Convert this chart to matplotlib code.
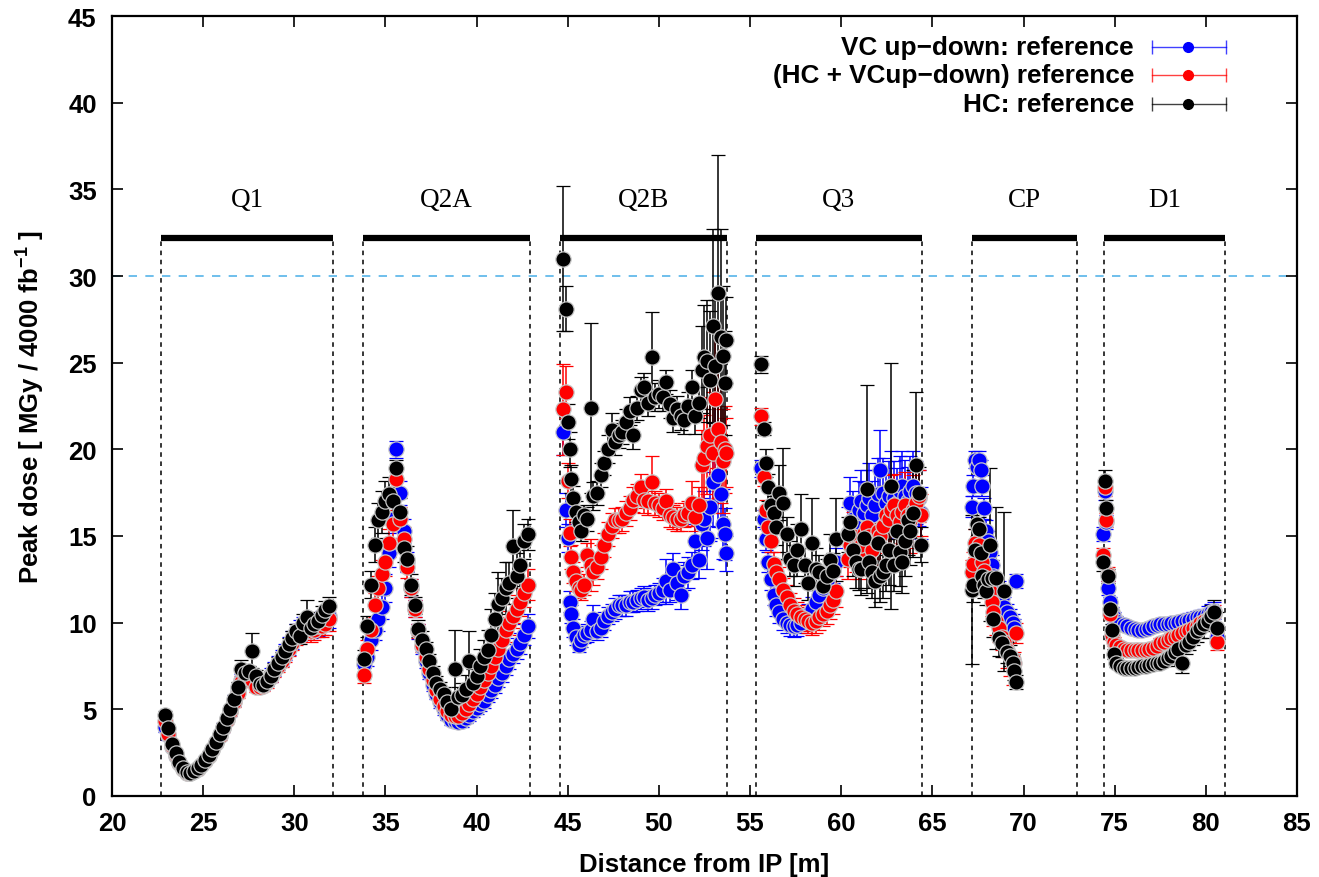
import matplotlib
matplotlib.use('Agg')
import matplotlib.pyplot as plt
import numpy as np

plt.rcParams['font.family'] = ['Liberation Sans', 'DejaVu Sans']
plt.rcParams['mathtext.fontset'] = 'custom'
plt.rcParams['mathtext.rm'] = 'Liberation Sans:bold'
plt.rcParams['mathtext.bf'] = 'Liberation Sans:bold'

# magnets
magnet_names = ['Q1', 'Q2A', 'Q2B', 'Q3', 'CP', 'D1']
magnet_start = [22.7, 33.75, 44.55, 55.3, 67.15, 74.4]
magnet_end = [32.15, 42.95, 53.75, 64.45, 72.95, 81.05]

# ---- Q1
q1_x = [22.9, 23.1, 23.3, 23.5, 23.7, 23.9, 24.1, 24.3, 24.5, 24.7, 24.9, 25.1, 25.3, 25.5, 25.7,
        25.9, 26.1, 26.3, 26.5, 26.7, 26.9, 27.1, 27.3, 27.5, 27.7, 27.9, 28.1, 28.3, 28.5, 28.7,
        28.9, 29.1, 29.3, 29.5, 29.7, 29.9, 30.1, 30.3, 30.5, 30.7, 30.9, 31.1, 31.3, 31.5, 31.7, 31.9]
q1_hc = [4.7, 3.9, 3.0, 2.45, 1.95, 1.6, 1.38, 1.35, 1.45, 1.6, 1.8, 2.05, 2.35, 2.7, 3.1,
         3.55, 4.0, 4.5, 5.0, 5.6, 6.3, 7.35, 7.1, 7.2, 8.38, 6.95, 6.45, 6.4, 6.65, 6.95,
         7.35, 7.7, 8.0, 8.35, 8.75, 9.1, 9.5, 9.25, 10.0, 10.3, 9.7, 9.9, 10.1, 10.45, 10.75, 10.98]
q1_hc_err = [0.2, 0.2, 0.15, 0.1, 0.1, 0.1, 0.1, 0.1, 0.1, 0.1, 0.1, 0.1, 0.1, 0.15, 0.15,
             0.15, 0.2, 0.2, 0.2, 0.25, 0.3, 0.5, 0.3, 0.3, 1.0, 0.3, 0.3, 0.25, 0.25, 0.25,
             0.3, 0.3, 0.3, 0.3, 0.35, 0.4, 0.45, 0.5, 0.5, 1.0, 0.5, 0.5, 0.5, 0.5, 0.5, 0.5]
q1_mix = [4.3, 3.6, 2.9, 2.35, 1.9, 1.55, 1.35, 1.33, 1.42, 1.58, 1.78, 2.0, 2.3, 2.65, 3.05,
          3.45, 3.9, 4.4, 4.85, 5.4, 5.95, 6.6, 6.9, 7.0, 6.7, 6.3, 6.3, 6.35, 6.55, 6.85,
          7.2, 7.5, 7.8, 8.15, 8.5, 8.85, 9.2, 9.4, 9.6, 9.8, 9.5, 9.6, 9.8, 9.8, 9.9, 10.2]
q1_mix_err = [0.3, 0.3, 0.2, 0.15, 0.1, 0.1, 0.1, 0.1, 0.1, 0.1, 0.1, 0.1, 0.15, 0.15, 0.15,
              0.2, 0.2, 0.2, 0.25, 0.25, 0.3, 0.3, 0.3, 0.3, 0.3, 0.3, 0.3, 0.3, 0.3, 0.3,
              0.35, 0.35, 0.35, 0.4, 0.4, 0.45, 0.5, 0.5, 0.5, 0.6, 0.6, 0.6, 0.6, 0.6, 0.6, 0.7]
q1_vc = [4.0, 3.5, 2.85, 2.3, 1.88, 1.55, 1.35, 1.33, 1.43, 1.6, 1.8, 2.05, 2.35, 2.7, 3.1,
         3.5, 3.95, 4.45, 4.9, 5.5, 6.05, 6.7, 6.95, 7.05, 6.8, 6.5, 6.4, 6.45, 6.7, 7.0,
         7.35, 7.65, 7.95, 8.3, 8.65, 9.0, 9.35, 9.55, 9.75, 9.9, 9.7, 9.8, 9.9, 10.0, 10.2, 10.4]
q1_vc_err = [0.3, 0.3, 0.2, 0.15, 0.1, 0.1, 0.1, 0.1, 0.1, 0.1, 0.1, 0.15, 0.15, 0.2, 0.2,
             0.2, 0.25, 0.25, 0.3, 0.3, 0.3, 0.35, 0.35, 0.35, 0.35, 0.35, 0.35, 0.35, 0.35, 0.4,
             0.4, 0.4, 0.45, 0.45, 0.5, 0.5, 0.55, 0.6, 0.6, 0.6, 0.6, 0.65, 0.65, 0.7, 0.7, 0.7]

# ---- Q2A
q2a_x = [33.8, 34.0, 34.2, 34.4, 34.6, 34.8, 35.0, 35.2, 35.4, 35.6, 35.8, 36.0, 36.2, 36.4, 36.6,
         36.8, 37.0, 37.2, 37.4, 37.6, 37.8, 38.0, 38.2, 38.4, 38.6, 38.8, 39.0, 39.2, 39.4, 39.6,
         39.8, 40.0, 40.2, 40.4, 40.6, 40.8, 41.0, 41.2, 41.4, 41.6, 41.8, 42.0, 42.2, 42.4, 42.6, 42.8]
q2a_hc = [7.9, 9.8, 12.2, 14.5, 15.9, 16.4, 17.0, 17.4, 17.0, 18.9, 16.4, 14.3, 13.7, 12.2, 11.0,
          9.65, 9.0, 8.5, 7.8, 7.1, 6.5, 6.2, 5.9, 5.4, 5.0, 7.3, 5.7, 5.8, 6.2, 7.8,
          6.5, 6.9, 7.5, 8.0, 8.4, 9.3, 10.2, 11.1, 11.4, 12.0, 12.3, 14.4, 12.7, 13.3, 14.7, 15.1]
q2a_hc_err = [0.5, 0.6, 0.8, 1.0, 1.0, 1.2, 1.2, 1.0, 0.8, 0.5, 0.8, 0.8, 0.7, 0.6, 0.5,
              0.5, 0.5, 0.4, 0.4, 0.4, 0.4, 0.4, 0.4, 0.4, 0.5, 2.3, 0.6, 0.7, 0.8, 1.7,
              0.8, 0.9, 1.0, 1.0, 1.2, 1.5, 1.5, 1.8, 1.2, 1.5, 1.2, 2.1, 1.3, 1.2, 1.0, 0.9]
q2a_mix = [7.0, 8.5, 9.6, 11.0, 12.0, 12.8, 13.5, 14.6, 15.7, 18.3, 16.0, 14.8, 13.2, 12.0, 10.8,
           9.5, 8.7, 8.0, 7.3, 6.7, 6.1, 5.6, 5.2, 4.9, 4.7, 4.6, 4.6, 4.8, 5.0, 5.3,
           5.6, 5.9, 6.3, 6.7, 7.1, 7.5, 8.0, 8.5, 9.0, 9.6, 10.0, 10.4, 10.8, 11.2, 11.7, 12.2]
q2a_mix_err = [0.5, 0.5, 0.6, 0.7, 0.7, 0.8, 0.8, 0.8, 0.8, 0.5, 0.7, 0.7, 0.6, 0.5, 0.5,
               0.4, 0.4, 0.4, 0.35, 0.35, 0.3, 0.3, 0.3, 0.3, 0.3, 0.3, 0.3, 0.3, 0.3, 0.35,
               0.35, 0.4, 0.4, 0.45, 0.5, 0.5, 0.5, 0.6, 0.6, 0.7, 0.7, 0.7, 0.8, 0.8, 0.8, 0.9]
q2a_vc = [7.6, 8.0, 9.0, 9.6, 10.2, 10.9, 12.0, 14.0, 16.0, 20.0, 17.5, 15.3, 13.5, 12.0, 10.8,
          9.5, 8.6, 7.8, 7.1, 6.4, 5.9, 5.4, 5.0, 4.7, 4.4, 4.3, 4.25, 4.3, 4.5, 4.7,
          4.9, 5.1, 5.3, 5.5, 5.8, 6.1, 6.4, 6.8, 7.1, 7.5, 7.9, 8.2, 8.5, 8.8, 9.3, 9.8]
q2a_vc_err = [0.5, 0.5, 0.6, 0.6, 0.7, 0.7, 0.8, 0.8, 0.8, 0.5, 0.7, 0.7, 0.6, 0.5, 0.5,
              0.45, 0.4, 0.4, 0.35, 0.35, 0.3, 0.3, 0.3, 0.3, 0.3, 0.3, 0.3, 0.3, 0.3, 0.35,
              0.35, 0.35, 0.4, 0.4, 0.4, 0.45, 0.45, 0.5, 0.5, 0.5, 0.55, 0.55, 0.6, 0.6, 0.6, 0.7]

# ---- Q2B
q2b_x = [44.75, 44.9, 45.0, 45.1, 45.2, 45.3, 45.45, 45.6, 45.75, 45.9, 46.05, 46.25, 46.4, 46.6,
         46.8, 47.0, 47.2, 47.4, 47.6, 47.8, 48.0, 48.2, 48.4, 48.6, 48.8, 49.0, 49.2, 49.4, 49.6,
         49.8, 50.0, 50.2, 50.4, 50.6, 50.8, 51.0, 51.2, 51.4, 51.6, 51.8, 52.0, 52.2, 52.35, 52.5,
         52.65, 52.8, 52.95, 53.1, 53.25, 53.4, 53.5, 53.6, 53.7]
q2b_hc = [31.0, 28.1, 21.6, 20.0, 18.3, 17.2, 16.4, 15.8, 15.3, 16.2, 16.0, 22.4, 17.3, 17.5,
          18.5, 19.2, 20.0, 21.1, 20.4, 20.8, 21.0, 21.6, 22.2, 20.8, 22.4, 23.4, 23.6, 22.7, 25.3,
          23.0, 23.2, 23.0, 23.9, 22.6, 21.8, 22.3, 21.9, 21.7, 22.5, 23.6, 21.9, 22.7, 24.6, 25.3,
          25.1, 24.0, 27.1, 24.8, 29.0, 26.5, 25.4, 23.8, 26.3]
q2b_hc_err = [4.2, 1.3, 1.0, 1.0, 0.8, 0.7, 0.6, 0.6, 0.6, 0.6, 0.7, 4.9, 0.8, 0.7,
              0.7, 0.7, 0.8, 1.0, 0.7, 0.7, 0.7, 0.7, 0.8, 0.8, 0.7, 0.8, 0.8, 0.8, 2.6,
              0.8, 0.8, 0.8, 0.7, 0.8, 0.8, 0.8, 0.8, 0.8, 0.8, 1.0, 1.0, 0.9, 2.5, 3.0,
              3.5, 4.0, 5.6, 3.8, 8.0, 6.2, 4.0, 3.0, 2.5]
q2b_mix = [22.3, 23.3, 18.2, 15.2, 13.8, 12.9, 12.4, 12.0, 11.9, 12.2, 13.9, 13.3, 12.9, 13.2,
           13.8, 14.5, 15.1, 15.6, 15.9, 15.9, 16.0, 16.3, 16.6, 17.1, 17.3, 17.8, 17.1, 17.0, 18.1,
           16.9, 16.8, 16.6, 17.0, 16.2, 16.1, 16.0, 16.0, 16.2, 16.3, 16.9, 16.1, 16.8, 19.1, 19.5,
           20.2, 20.8, 19.8, 22.9, 21.2, 20.4, 19.3, 20.0, 19.8]
q2b_mix_err = [2.6, 1.5, 1.0, 0.8, 0.7, 0.6, 0.6, 0.6, 0.6, 0.6, 0.7, 1.5, 0.7, 0.7,
               0.7, 0.7, 0.7, 0.7, 0.7, 0.7, 0.7, 0.7, 0.7, 0.7, 0.7, 0.8, 0.8, 0.8, 1.5,
               0.7, 0.7, 0.7, 0.7, 0.7, 0.7, 0.7, 0.7, 0.7, 0.7, 1.3, 0.8, 1.0, 2.0, 2.5,
               2.8, 3.0, 3.5, 4.0, 4.0, 3.5, 3.0, 2.5, 2.0]
q2b_vc = [21.0, 16.5, 14.9, 11.2, 10.5, 9.7, 9.2, 8.7, 9.0, 9.3, 9.4, 9.6, 10.2, 9.5,
          9.7, 10.1, 10.4, 10.6, 10.8, 11.0, 11.0, 11.0, 11.2, 11.2, 11.3, 11.4, 11.5, 11.3, 11.4,
          11.6, 11.7, 11.9, 12.4, 11.9, 13.1, 12.3, 11.6, 12.7, 12.9, 13.3, 14.7, 13.6, 15.7, 16.0,
          14.9, 16.7, 18.1, 20.0, 18.5, 17.4, 15.7, 15.1, 14.0]
q2b_vc_err = [1.3, 1.0, 0.8, 0.6, 0.5, 0.5, 0.5, 0.4, 0.4, 0.5, 0.5, 0.5, 0.8, 0.5,
              0.5, 0.5, 0.5, 0.5, 0.6, 0.6, 0.6, 0.6, 0.6, 0.6, 0.6, 0.6, 0.6, 0.6, 0.6,
              0.6, 0.6, 0.7, 1.3, 0.7, 0.9, 1.0, 0.8, 0.8, 0.9, 0.8, 1.0, 1.0, 1.5, 1.6,
              1.8, 2.0, 2.5, 3.0, 3.0, 2.5, 2.0, 1.5, 1.0]

# ---- Q3
q3_x = [55.6, 55.75, 55.85, 56.0, 56.15, 56.3, 56.45, 56.6, 56.8, 57.0, 57.2, 57.4, 57.6, 57.8,
        58.0, 58.2, 58.4, 58.6, 58.8, 59.0, 59.2, 59.4, 59.55, 59.7,
        60.35, 60.5, 60.65, 60.8, 60.95, 61.1, 61.25, 61.4, 61.55, 61.7, 61.85, 62.0, 62.15, 62.3,
        62.45, 62.6, 62.75, 62.9, 63.05, 63.2, 63.35, 63.5, 63.65, 63.8, 63.95, 64.1, 64.25, 64.4]
q3_hc = [24.9, 21.2, 19.2, 17.8, 16.8, 16.3, 15.5, 17.5, 16.9, 15.1, 13.7, 13.3, 14.2, 15.4,
         13.3, 12.3, 14.6, 13.1, 12.9, 12.1, 12.7, 13.6, 13.0, 14.8,
         15.1, 15.8, 14.2, 13.5, 13.1, 13.1, 14.9, 17.7, 13.5, 12.9, 12.4, 14.6, 12.7, 12.9,
         13.3, 14.2, 17.9, 13.3, 15.3, 14.1, 13.5, 14.7, 15.9, 15.3, 16.3, 19.1, 17.5, 14.5]
q3_hc_err = [0.5, 0.4, 0.8, 0.8, 0.8, 1.0, 1.0, 1.6, 3.2, 1.0, 1.0, 1.2, 1.5, 2.0,
             1.0, 1.0, 2.6, 1.2, 1.0, 1.0, 1.0, 1.5, 1.0, 2.4,
             1.0, 1.2, 1.5, 1.5, 1.2, 1.5, 1.5, 6.0, 1.5, 1.5, 1.5, 1.5, 1.5, 1.5,
             1.5, 2.0, 7.1, 1.5, 2.0, 2.0, 1.8, 2.0, 2.0, 2.0, 2.5, 4.2, 1.5, 1.0]
q3_mix = [21.9, 18.4, 16.5, 15.5, 14.7, 13.4, 12.9, 12.5, 11.9, 11.5, 11.0, 10.7, 10.5, 10.3,
          10.2, 10.1, 10.0, 10.1, 10.3, 10.5, 10.7, 11.0, 11.3, 11.8,
          13.7, 14.5, 15.0, 14.3, 14.0, 14.5, 15.2, 15.5, 15.0, 14.2, 14.8, 15.3, 15.0, 15.6,
          16.2, 16.0, 16.5, 16.8, 16.2, 15.8, 16.4, 16.8, 16.2, 15.9, 16.5, 16.9, 17.3, 16.2]
q3_mix_err = [0.5, 0.5, 0.6, 0.6, 0.6, 0.7, 0.7, 0.7, 0.7, 0.7, 0.7, 0.7, 0.7, 0.7,
              0.7, 0.7, 0.7, 0.7, 0.7, 0.7, 0.8, 0.8, 0.8, 0.9,
              1.2, 1.3, 1.4, 1.4, 1.5, 1.5, 1.5, 1.8, 1.5, 1.5, 1.5, 1.6, 1.6, 1.6,
              1.7, 1.7, 2.0, 1.8, 1.8, 1.8, 1.8, 1.9, 1.9, 1.9, 2.0, 2.0, 1.5, 1.2]
q3_vc = [18.9, 16.0, 14.8, 13.5, 12.5, 11.6, 11.0, 10.6, 10.2, 10.0, 9.85, 9.8, 9.85, 10.0,
         10.2, 10.5, 10.8, 11.2, 11.6, 12.0, 12.4, 12.8, 13.1, 13.5,
         15.2, 16.9, 16.0, 15.5, 16.5, 17.0, 16.3, 16.8, 17.2, 16.2, 16.8, 17.4, 18.8, 17.5,
         16.9, 17.3, 17.8, 17.2, 16.9, 17.6, 17.9, 17.3, 17.0, 17.6, 17.9, 17.5, 17.2, 16.3]
q3_vc_err = [0.5, 0.5, 0.6, 0.6, 0.6, 0.6, 0.6, 0.6, 0.6, 0.6, 0.6, 0.6, 0.6, 0.6,
             0.6, 0.6, 0.7, 0.7, 0.7, 0.7, 0.8, 0.8, 0.8, 0.8,
             1.5, 1.5, 1.6, 1.6, 1.7, 1.8, 1.8, 2.0, 2.0, 2.0, 2.0, 2.1, 2.3, 2.0,
             2.0, 2.0, 2.1, 2.1, 2.0, 2.0, 2.0, 2.1, 2.0, 2.0, 2.0, 1.8, 1.6, 1.5]

# ---- CP
cp_x = [67.15, 67.25, 67.35, 67.45, 67.55, 67.65, 67.75, 67.85, 67.95, 68.05, 68.15, 68.25,
        68.35, 68.5, 68.65, 68.8, 68.95, 69.1, 69.25, 69.4, 69.5, 69.6]
cp_hc = [11.9, 12.2, 14.2, 15.7, 15.4, 14.0, 12.7, 12.2, 11.8, 12.5, 14.5, 12.6,
         10.2, 12.6, 9.1, 8.8, 11.8, 8.3, 8.1, 7.7, 7.2, 6.6]
cp_hc_err = [4.3, 1.0, 1.2, 0.8, 0.7, 0.8, 0.8, 0.8, 0.8, 1.0, 4.4, 1.0,
             1.0, 4.1, 1.0, 0.8, 4.6, 0.6, 0.6, 0.5, 0.5, 0.4]
cp_mix = [12.9, 13.4, 14.6, 14.2, 14.5, 14.0, 13.5, 13.0, 12.6, 12.2, 11.8, 11.2,
          10.6, 10.1, 9.7, 9.2, 8.9, 8.4, 8.1, 7.9, 7.7, 9.4]
cp_mix_err = [0.7, 0.7, 0.8, 0.8, 0.8, 0.8, 0.8, 0.8, 0.8, 0.8, 0.8, 0.8,
              0.8, 0.8, 0.8, 0.8, 0.9, 1.0, 1.2, 1.5, 0.6, 0.6]
cp_vc = [16.7, 17.9, 19.4, 19.0, 19.4, 18.8, 17.9, 16.6, 15.3, 14.7, 14.1, 13.3,
         12.7, 12.1, 11.8, 11.4, 10.9, 10.6, 10.3, 10.0, 9.7, 12.4]
cp_vc_err = [0.6, 0.6, 0.5, 0.5, 0.5, 0.6, 0.6, 0.6, 0.6, 0.6, 0.6, 0.6,
             0.6, 0.6, 0.6, 0.6, 0.6, 0.5, 0.5, 0.5, 0.5, 0.4]

# ---- D1
d1_x = [74.35, 74.45, 74.55, 74.65, 74.75, 74.85, 74.95, 75.1, 75.3, 75.5, 75.7, 75.9, 76.1,
        76.3, 76.5, 76.7, 76.9, 77.1, 77.3, 77.5, 77.7, 77.9, 78.1, 78.3, 78.5, 78.7, 78.9,
        79.1, 79.3, 79.5, 79.7, 79.9, 80.1, 80.3, 80.45, 80.6]
d1_hc = [13.5, 18.2, 16.6, 12.7, 10.8, 9.6, 8.2, 7.7, 7.5, 7.4, 7.4, 7.4, 7.4,
         7.45, 7.5, 7.5, 7.55, 7.6, 7.65, 7.7, 7.8, 7.95, 8.1, 8.3, 8.5, 7.7, 8.7,
         8.9, 9.2, 9.5, 9.7, 9.9, 10.1, 10.4, 10.6, 9.7]
d1_hc_err = [0.5, 0.6, 0.5, 0.4, 0.3, 0.3, 0.3, 0.25, 0.2, 0.2, 0.2, 0.2, 0.2,
             0.2, 0.2, 0.2, 0.2, 0.2, 0.25, 0.25, 0.3, 0.3, 0.4, 0.8, 0.5, 0.6, 0.5,
             0.5, 0.5, 0.6, 0.6, 0.8, 0.6, 0.6, 0.7, 0.9]
d1_mix = [13.9, 17.8, 15.9, 12.8, 10.5, 9.3, 8.9, 8.7, 8.6, 8.5, 8.45, 8.4, 8.4,
          8.4, 8.4, 8.45, 8.5, 8.55, 8.65, 8.8, 8.9, 9.0, 9.1, 9.2, 9.3, 9.4, 9.5,
          9.6, 9.7, 9.8, 10.0, 10.1, 10.2, 10.4, 10.5, 8.9]
d1_mix_err = [0.4, 0.5, 0.4, 0.4, 0.3, 0.3, 0.25, 0.25, 0.25, 0.25, 0.25, 0.25, 0.25,
              0.25, 0.25, 0.25, 0.25, 0.25, 0.25, 0.3, 0.3, 0.3, 0.3, 0.3, 0.35, 0.35, 0.35,
              0.35, 0.4, 0.4, 0.4, 0.4, 0.45, 0.45, 0.5, 0.5]
d1_vc = [15.1, 17.6, 15.8, 12.0, 11.2, 10.6, 10.3, 10.1, 9.95, 9.85, 9.8, 9.7, 9.65,
         9.6, 9.6, 9.65, 9.7, 9.8, 9.85, 9.9, 9.9, 9.95, 10.0, 10.0, 10.05, 10.1, 10.1,
         10.15, 10.2, 10.3, 10.35, 10.4, 10.5, 10.6, 10.7, 9.2]
d1_vc_err = [0.4, 0.5, 0.4, 0.4, 0.3, 0.3, 0.3, 0.3, 0.3, 0.3, 0.3, 0.3, 0.3,
             0.3, 0.3, 0.3, 0.3, 0.3, 0.3, 0.3, 0.3, 0.3, 0.35, 0.35, 0.35, 0.35, 0.35,
             0.4, 0.4, 0.4, 0.4, 0.4, 0.45, 0.45, 0.5, 0.5]

x_all = q1_x + q2a_x + q2b_x + q3_x + cp_x + d1_x
series = [
    ('VC up\u2212down: reference', '#0000ff',
     q1_vc + q2a_vc + q2b_vc + q3_vc + cp_vc + d1_vc,
     q1_vc_err + q2a_vc_err + q2b_vc_err + q3_vc_err + cp_vc_err + d1_vc_err),
    ('(HC + VCup\u2212down) reference', '#ff0000',
     q1_mix + q2a_mix + q2b_mix + q3_mix + cp_mix + d1_mix,
     q1_mix_err + q2a_mix_err + q2b_mix_err + q3_mix_err + cp_mix_err + d1_mix_err),
    ('HC: reference', '#000000',
     q1_hc + q2a_hc + q2b_hc + q3_hc + cp_hc + d1_hc,
     q1_hc_err + q2a_hc_err + q2b_hc_err + q3_hc_err + cp_hc_err + d1_hc_err),
]

fig = plt.figure(figsize=(13.19, 8.78), dpi=100)
ax = fig.add_axes([0.0849, 0.0923, 0.8984, 0.8883])

# magnet layout
for name, x0, x1 in zip(magnet_names, magnet_start, magnet_end):
    ax.plot([x0, x1], [32.2, 32.2], color='black', lw=4.5, solid_capstyle='butt', zorder=2)
    for xv in (x0, x1):
        ax.plot([xv, xv], [0, 32.2], color='black', lw=1.1, ls=(0, (3, 3)), zorder=1)
    ax.text((x0 + x1) / 2, 34.4, name, ha='center', va='center', fontsize=19.5,
            family='Liberation Serif')

ax.axhline(30, color='#56b4e9', lw=1.2, ls=(0, (5, 5)), zorder=1)

for label, col, y, err in series:
    ax.errorbar(x_all, y, yerr=err, fmt='o', color=col, ecolor=col, elinewidth=1.1,
                capsize=5, capthick=1.1, ms=11, mec='#c8c8c8', mew=0.9, zorder=3)

# legend (gnuplot-like: text on left, horizontal error bar sample)
for i, (label, col, y, err) in enumerate(series):
    yy = 0.9606 - i * 0.0367
    ax.text(0.8624, yy, label, transform=ax.transAxes, ha='right', va='center',
            fontsize=18.8, fontweight='bold')
    ax.plot([0.8776, 0.9401], [yy, yy], transform=ax.transAxes, color=col, lw=1.0,
            alpha=0.75, clip_on=False)
    ax.plot([0.8776, 0.9401], [yy, yy], transform=ax.transAxes, color=col, ls='none',
            marker='|', ms=10, mew=1.0, alpha=0.75, clip_on=False)
    ax.plot([0.908], [yy], transform=ax.transAxes, color=col, marker='o', ms=7, ls='none',
            clip_on=False)

ax.set_xlim(20, 85)
ax.set_ylim(0, 45)
ax.set_xticks(np.arange(20, 86, 5))
ax.set_yticks(np.arange(0, 46, 5))
ax.tick_params(direction='in', length=8, width=1.2, top=True, right=True,
               labelsize=18.5, pad=11)
for lab in ax.get_xticklabels() + ax.get_yticklabels():
    lab.set_fontweight('bold')
for sp in ax.spines.values():
    sp.set_linewidth(1.6)

ax.set_xlabel('Distance from IP [m]', fontsize=18.5, fontweight='bold', labelpad=12)
ax.set_ylabel(r'Peak dose [ MGy / 4000 fb$^{\mathbf{-1}}$ ]', fontsize=18.5,
              fontweight='bold', labelpad=16)

fig.savefig('out.png', dpi=100)
plt.close()
